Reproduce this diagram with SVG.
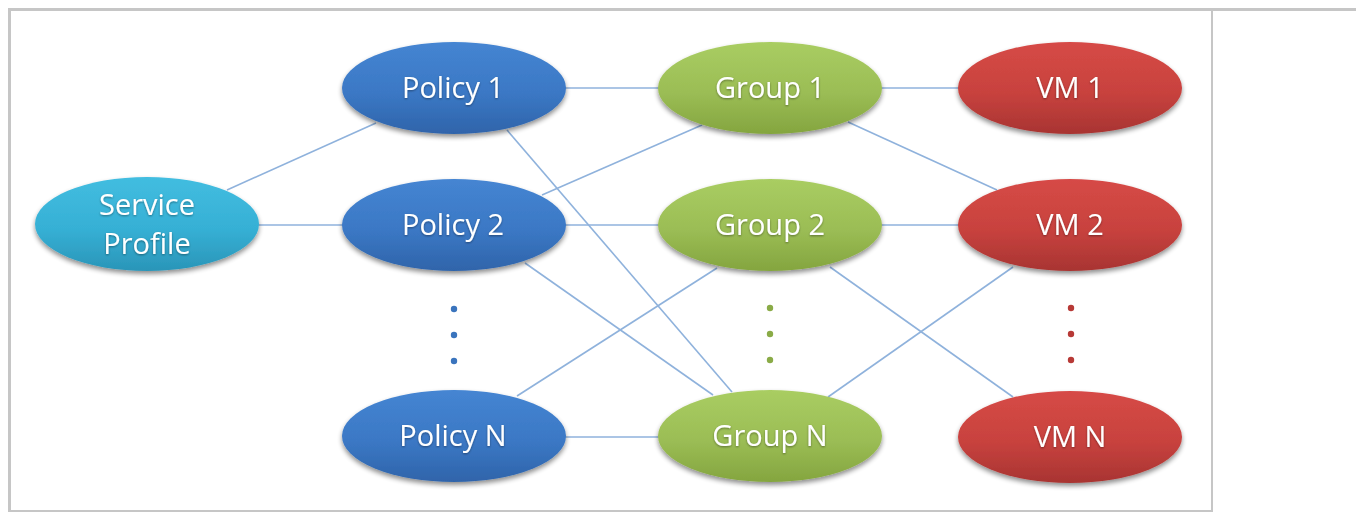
<svg xmlns="http://www.w3.org/2000/svg" width="1356" height="527" viewBox="0 0 1356 527">
<style>
.lbl{font-family:"Open Sans","Noto Sans","Liberation Sans",sans-serif;font-size:29px;fill:#ffffff;text-anchor:middle;filter:url(#ts)}
.con line{stroke:#8fb2dc;stroke-width:1.6;fill:none}
.frame{stroke:#c6c6c6;fill:none}
</style>
<defs>
<linearGradient id="gBlue" x1="0" y1="0" x2="0" y2="1"><stop offset="0" stop-color="#4585d2"/><stop offset="0.55" stop-color="#3b78c5"/><stop offset="1" stop-color="#2f64aa"/></linearGradient>
<linearGradient id="gGreen" x1="0" y1="0" x2="0" y2="1"><stop offset="0" stop-color="#a9cd62"/><stop offset="0.55" stop-color="#9bbd55"/><stop offset="1" stop-color="#84a53f"/></linearGradient>
<linearGradient id="gRed" x1="0" y1="0" x2="0" y2="1"><stop offset="0" stop-color="#d64a46"/><stop offset="0.55" stop-color="#c8423e"/><stop offset="1" stop-color="#a83432"/></linearGradient>
<linearGradient id="gCyan" x1="0" y1="0" x2="0" y2="1"><stop offset="0" stop-color="#42bde0"/><stop offset="0.55" stop-color="#36b0d5"/><stop offset="1" stop-color="#2a95b8"/></linearGradient>
<filter id="sh" x="-10%" y="-15%" width="120%" height="140%"><feGaussianBlur in="SourceAlpha" stdDeviation="2.5"/><feOffset dy="3" result="b"/><feComponentTransfer><feFuncA type="linear" slope="0.45"/></feComponentTransfer><feMerge><feMergeNode/><feMergeNode in="SourceGraphic"/></feMerge></filter>
<filter id="ts" x="-10%" y="-20%" width="120%" height="150%"><feGaussianBlur in="SourceAlpha" stdDeviation="1"/><feOffset dy="1"/><feComponentTransfer><feFuncA type="linear" slope="0.4"/></feComponentTransfer><feMerge><feMergeNode/><feMergeNode in="SourceGraphic"/></feMerge></filter>
</defs>
<rect width="1356" height="527" fill="#ffffff"/>
<g id="frame">
<line class="frame" x1="8" y1="9.5" x2="1356" y2="9.5" stroke-width="3"/>
<line class="frame" x1="9.5" y1="8" x2="9.5" y2="512" stroke-width="3"/>
<line class="frame" x1="1212" y1="8" x2="1212" y2="512" stroke-width="2"/>
<line class="frame" x1="8" y1="511" x2="1213" y2="511" stroke-width="2"/>
</g>
<g id="connectors" class="con">
<line x1="227" y1="190" x2="376" y2="123"/>
<line x1="258" y1="225" x2="344" y2="225"/>
<line x1="565" y1="88" x2="660" y2="88"/>
<line x1="507" y1="130" x2="732" y2="392"/>
<line x1="542" y1="195" x2="702" y2="125"/>
<line x1="565" y1="225" x2="660" y2="225"/>
<line x1="525" y1="263" x2="713" y2="395"/>
<line x1="517" y1="396" x2="717" y2="268"/>
<line x1="565" y1="437" x2="660" y2="437"/>
<line x1="880" y1="88" x2="960" y2="88"/>
<line x1="848" y1="122" x2="997" y2="190"/>
<line x1="880" y1="225" x2="960" y2="225"/>
<line x1="830" y1="267" x2="1013" y2="397"/>
<line x1="828" y1="397" x2="1013" y2="267"/>
</g>
<g id="service-profile"><ellipse cx="147" cy="224" rx="112" ry="47" fill="url(#gCyan)" filter="url(#sh)"/><text class="lbl" x="147" y="215">Service</text><text class="lbl" x="147" y="254">Profile</text></g>
<g id="policy-1"><ellipse cx="454" cy="88" rx="112" ry="46" fill="url(#gBlue)" filter="url(#sh)"/><text class="lbl" x="453" y="98">Policy 1</text></g>
<g id="policy-2"><ellipse cx="454" cy="225" rx="112" ry="46" fill="url(#gBlue)" filter="url(#sh)"/><text class="lbl" x="453" y="235">Policy 2</text></g>
<g id="policy-n"><ellipse cx="454" cy="436" rx="112" ry="46" fill="url(#gBlue)" filter="url(#sh)"/><text class="lbl" x="453" y="446">Policy N</text></g>
<g id="group-1"><ellipse cx="770" cy="88" rx="112" ry="46" fill="url(#gGreen)" filter="url(#sh)"/><text class="lbl" x="770" y="98">Group 1</text></g>
<g id="group-2"><ellipse cx="770" cy="225" rx="112" ry="46" fill="url(#gGreen)" filter="url(#sh)"/><text class="lbl" x="770" y="235">Group 2</text></g>
<g id="group-n"><ellipse cx="770" cy="436" rx="112" ry="46" fill="url(#gGreen)" filter="url(#sh)"/><text class="lbl" x="770" y="446">Group N</text></g>
<g id="vm-1"><ellipse cx="1070" cy="88" rx="112" ry="46" fill="url(#gRed)" filter="url(#sh)"/><text class="lbl" x="1070" y="98">VM 1</text></g>
<g id="vm-2"><ellipse cx="1070" cy="225" rx="112" ry="46" fill="url(#gRed)" filter="url(#sh)"/><text class="lbl" x="1070" y="235">VM 2</text></g>
<g id="vm-n"><ellipse cx="1070" cy="437" rx="112" ry="46" fill="url(#gRed)" filter="url(#sh)"/><text class="lbl" x="1070" y="447">VM N</text></g>
<g id="dots-policy" fill="#3a74bd"><circle cx="454" cy="309" r="3.2"/><circle cx="454" cy="335" r="3.2"/><circle cx="454" cy="361" r="3.2"/></g>
<g id="dots-group" fill="#8aab47"><circle cx="770" cy="308" r="3.2"/><circle cx="770" cy="334" r="3.2"/><circle cx="770" cy="360" r="3.2"/></g>
<g id="dots-vm" fill="#b73936"><circle cx="1071" cy="308" r="3.2"/><circle cx="1071" cy="334" r="3.2"/><circle cx="1071" cy="360" r="3.2"/></g>
</svg>
